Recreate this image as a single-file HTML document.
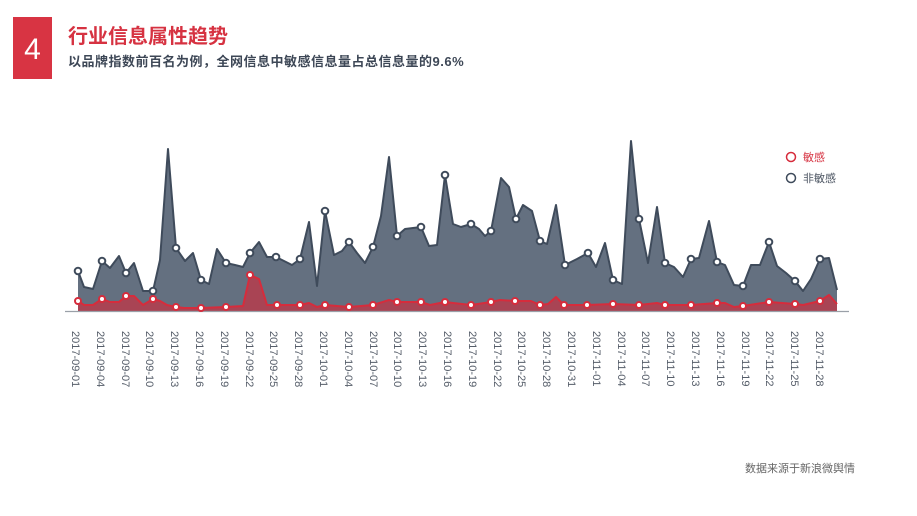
<!DOCTYPE html>
<html><head><meta charset="utf-8"><style>
html,body{margin:0;padding:0;background:#fff;width:917px;height:516px;overflow:hidden;font-family:"Liberation Sans","Noto Sans CJK SC",sans-serif;}
</style></head><body>
<svg width="917" height="516" xmlns="http://www.w3.org/2000/svg" font-family="Liberation Sans, Noto Sans CJK SC, sans-serif">
<rect x="13" y="17" width="39" height="62" fill="#d83443"/>
<text x="32.5" y="59" font-size="30" fill="#fff" text-anchor="middle">4</text>
<text x="68" y="43" font-size="20" font-weight="bold" fill="#d63241">行业信息属性趋势</text>
<text x="68" y="66" font-size="13" font-weight="bold" fill="#3d4756" letter-spacing="0.5">以品牌指数前百名为例，全网信息中敏感信息量占总信息量的9.6%</text>

<polygon fill="#647080" points="78,311 78,271 84,287 93,289 102,261 110,268 119,256 126,273 134,263 143,291 153,291 160,260 168,149 176,248 185,261 193,253 201,280 209,284 217,249 226,263 235,265 243,267 250,253 259,242 267,257 276,257 284,261 292,265 300,259 309,222 317,286 325,211 334,255 342,251 349,242 357,253 365,263 373,247 381,216 389,157 397,236 405,229 413,228 421,227 429,246 437,245 445,175 453,224 461,227 471,224 479,229 485,236 491,231 501,178 509,187 516,219 523,205 532,211 540,241 547,244 556,205 565,265 577,259 588,253 596,267 605,243 613,280 622,284 631,141 639,219 648,263 657,207 665,263 674,267 683,277 691,259 699,258 709,221 717,262 725,265 734,285 743,286 751,265 760,265 769,242 777,266 786,273 795,281 803,291 811,279 820,259 829,258 837,290 837,311"/>
<polyline fill="none" stroke="#3f4b5b" stroke-width="2" stroke-linejoin="round" points="78,271 84,287 93,289 102,261 110,268 119,256 126,273 134,263 143,291 153,291 160,260 168,149 176,248 185,261 193,253 201,280 209,284 217,249 226,263 235,265 243,267 250,253 259,242 267,257 276,257 284,261 292,265 300,259 309,222 317,286 325,211 334,255 342,251 349,242 357,253 365,263 373,247 381,216 389,157 397,236 405,229 413,228 421,227 429,246 437,245 445,175 453,224 461,227 471,224 479,229 485,236 491,231 501,178 509,187 516,219 523,205 532,211 540,241 547,244 556,205 565,265 577,259 588,253 596,267 605,243 613,280 622,284 631,141 639,219 648,263 657,207 665,263 674,267 683,277 691,259 699,258 709,221 717,262 725,265 734,285 743,286 751,265 760,265 769,242 777,266 786,273 795,281 803,291 811,279 820,259 829,258 837,290"/>

<polygon fill="#a94454" points="78,311 78,301 84,305 93,305 102,299 110,302 119,302 126,296 134,296 143,305 153,299 160,301 167,305 176,307 184,308 201,308 226,307 243,306 250,275 259,279 267,305 277,305 300,305 309,303 317,307 325,305 349,307 373,305 389,300 397,302 421,302 430,305 445,302 453,303 471,305 491,302 500,300 515,301 531,301 540,305 548,304 556,297 564,305 587,305 613,304 639,305 657,303 665,305 691,305 717,303 725,303 734,307 743,306 769,302 795,304 803,305 820,301 829,295 837,304 837,311"/>
<polyline fill="none" stroke="#d62c3c" stroke-width="2" stroke-linejoin="round" points="78,301 84,305 93,305 102,299 110,302 119,302 126,296 134,296 143,305 153,299 160,301 167,305 176,307 184,308 201,308 226,307 243,306 250,275 259,279 267,305 277,305 300,305 309,303 317,307 325,305 349,307 373,305 389,300 397,302 421,302 430,305 445,302 453,303 471,305 491,302 500,300 515,301 531,301 540,305 548,304 556,297 564,305 587,305 613,304 639,305 657,303 665,305 691,305 717,303 725,303 734,307 743,306 769,302 795,304 803,305 820,301 829,295 837,304"/>
<line x1="65" y1="311.5" x2="849" y2="311.5" stroke="#9aa0a8" stroke-width="1.2"/>

<g fill="#fff" stroke="#3f4b5b" stroke-width="2">
<circle cx="78" cy="271" r="3.3"/><circle cx="102" cy="261" r="3.3"/><circle cx="126" cy="273" r="3.3"/><circle cx="153" cy="291" r="3.3"/><circle cx="176" cy="248" r="3.3"/><circle cx="201" cy="280" r="3.3"/><circle cx="226" cy="263" r="3.3"/><circle cx="250" cy="253" r="3.3"/><circle cx="276" cy="257" r="3.3"/><circle cx="300" cy="259" r="3.3"/><circle cx="325" cy="211" r="3.3"/><circle cx="349" cy="242" r="3.3"/><circle cx="373" cy="247" r="3.3"/><circle cx="397" cy="236" r="3.3"/><circle cx="421" cy="227" r="3.3"/><circle cx="445" cy="175" r="3.3"/><circle cx="471" cy="224" r="3.3"/><circle cx="491" cy="231" r="3.3"/><circle cx="516" cy="219" r="3.3"/><circle cx="540" cy="241" r="3.3"/><circle cx="565" cy="265" r="3.3"/><circle cx="588" cy="253" r="3.3"/><circle cx="613" cy="280" r="3.3"/><circle cx="639" cy="219" r="3.3"/><circle cx="665" cy="263" r="3.3"/><circle cx="691" cy="259" r="3.3"/><circle cx="717" cy="262" r="3.3"/><circle cx="743" cy="286" r="3.3"/><circle cx="769" cy="242" r="3.3"/><circle cx="795" cy="281" r="3.3"/><circle cx="820" cy="259" r="3.3"/>
</g>
<g fill="#fff" stroke="#d62c3c" stroke-width="2">
<circle cx="78" cy="301" r="3"/><circle cx="102" cy="299" r="3"/><circle cx="126" cy="296" r="3"/><circle cx="153" cy="299" r="3"/><circle cx="176" cy="307" r="3"/><circle cx="201" cy="308" r="3"/><circle cx="226" cy="307" r="3"/><circle cx="250" cy="275" r="3"/><circle cx="277" cy="305" r="3"/><circle cx="300" cy="305" r="3"/><circle cx="325" cy="305" r="3"/><circle cx="349" cy="307" r="3"/><circle cx="373" cy="305" r="3"/><circle cx="397" cy="302" r="3"/><circle cx="421" cy="302" r="3"/><circle cx="445" cy="302" r="3"/><circle cx="471" cy="305" r="3"/><circle cx="491" cy="302" r="3"/><circle cx="515" cy="301" r="3"/><circle cx="540" cy="305" r="3"/><circle cx="564" cy="305" r="3"/><circle cx="587" cy="305" r="3"/><circle cx="613" cy="304" r="3"/><circle cx="639" cy="305" r="3"/><circle cx="665" cy="305" r="3"/><circle cx="691" cy="305" r="3"/><circle cx="717" cy="303" r="3"/><circle cx="743" cy="306" r="3"/><circle cx="769" cy="302" r="3"/><circle cx="795" cy="304" r="3"/><circle cx="820" cy="301" r="3"/>
</g>

<g font-size="11" fill="#555d69">
<text transform="translate(72,331) rotate(90)">2017-09-01</text>
<text transform="translate(97,331) rotate(90)">2017-09-04</text>
<text transform="translate(122,331) rotate(90)">2017-09-07</text>
<text transform="translate(146,331) rotate(90)">2017-09-10</text>
<text transform="translate(171,331) rotate(90)">2017-09-13</text>
<text transform="translate(196,331) rotate(90)">2017-09-16</text>
<text transform="translate(221,331) rotate(90)">2017-09-19</text>
<text transform="translate(246,331) rotate(90)">2017-09-22</text>
<text transform="translate(270,331) rotate(90)">2017-09-25</text>
<text transform="translate(295,331) rotate(90)">2017-09-28</text>
<text transform="translate(320,331) rotate(90)">2017-10-01</text>
<text transform="translate(345,331) rotate(90)">2017-10-04</text>
<text transform="translate(370,331) rotate(90)">2017-10-07</text>
<text transform="translate(394,331) rotate(90)">2017-10-10</text>
<text transform="translate(419,331) rotate(90)">2017-10-13</text>
<text transform="translate(444,331) rotate(90)">2017-10-16</text>
<text transform="translate(469,331) rotate(90)">2017-10-19</text>
<text transform="translate(494,331) rotate(90)">2017-10-22</text>
<text transform="translate(518,331) rotate(90)">2017-10-25</text>
<text transform="translate(543,331) rotate(90)">2017-10-28</text>
<text transform="translate(568,331) rotate(90)">2017-10-31</text>
<text transform="translate(593,331) rotate(90)">2017-11-01</text>
<text transform="translate(618,331) rotate(90)">2017-11-04</text>
<text transform="translate(642,331) rotate(90)">2017-11-07</text>
<text transform="translate(667,331) rotate(90)">2017-11-10</text>
<text transform="translate(692,331) rotate(90)">2017-11-13</text>
<text transform="translate(717,331) rotate(90)">2017-11-16</text>
<text transform="translate(742,331) rotate(90)">2017-11-19</text>
<text transform="translate(766,331) rotate(90)">2017-11-22</text>
<text transform="translate(791,331) rotate(90)">2017-11-25</text>
<text transform="translate(816,331) rotate(90)">2017-11-28</text>
</g>

<circle cx="791" cy="157" r="4.5" fill="#fff" stroke="#d62c3c" stroke-width="1.5"/>
<text x="803" y="161" font-size="11" fill="#d63241">敏感</text>
<circle cx="791" cy="178" r="4.5" fill="#fff" stroke="#3f4b5b" stroke-width="1.5"/>
<text x="803" y="182" font-size="11" fill="#4a5360">非敏感</text>

<text x="855" y="472" font-size="11" fill="#666" text-anchor="end">数据来源于新浪微舆情</text>
</svg>
</body></html>
